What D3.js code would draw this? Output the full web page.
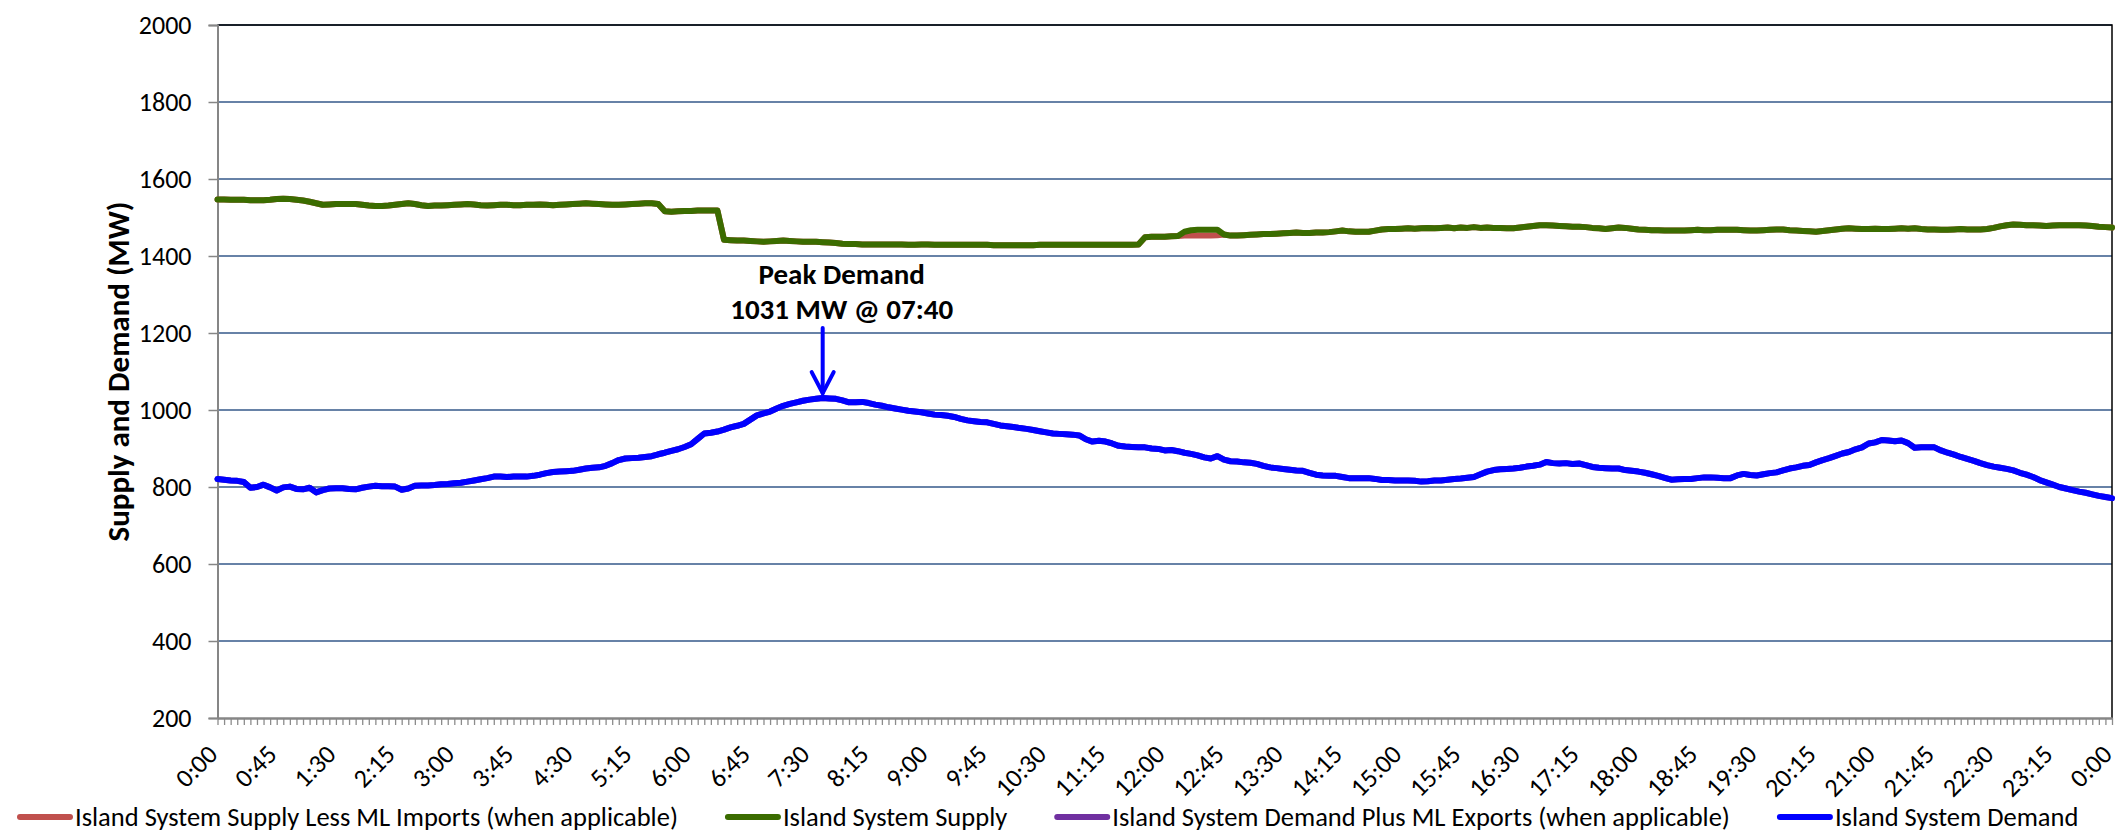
<!DOCTYPE html>
<html>
<head>
<meta charset="utf-8">
<script src="https://cdn.jsdelivr.net/npm/d3@7"></script>
<style>
  body { margin: 0; background: #fff; }
  text { font-family: Calibri, Carlito, Lato, sans-serif; fill: #000; }
</style>
</head>
<body>
<script>
// 5-minute readings, 0:00 .. 0:00 (289 points)
const demand = [
  821,819,817,816,813,798,800,806,799,791,
  799,801,795,794,798,786,792,796,797,797,
  795,794,798,801,803,802,802,801,793,796,
  803,804,804,805,807,808,810,811,814,817,
  820,823,827,827,826,827,827,827,829,832,
  836,839,840,841,842,845,848,850,851,855,
  862,870,874,875,876,878,880,885,889,894,
  898,904,911,925,939,941,944,949,955,959,
  964,975,986,991,996,1004,1011,1016,1020,1024,
  1027,1029,1031,1030,1029,1025,1020,1020,1021,1018,
  1014,1011,1007,1004,1001,998,996,994,991,988,
  987,985,982,977,973,971,969,968,964,960,
  958,956,953,951,948,945,942,939,938,937,
  936,934,924,918,920,918,913,907,905,904,
  903,903,900,899,895,896,893,889,886,882,
  877,874,880,871,867,866,864,863,860,855,
  851,849,847,845,843,842,837,832,830,829,
  829,826,823,823,823,823,821,818,818,817,
  817,817,816,814,815,817,817,819,821,822,
  824,826,833,840,844,846,847,848,850,853,
  855,858,865,862,861,862,860,861,857,852,
  850,849,848,848,844,842,840,837,833,829,
  824,819,820,821,821,823,825,825,824,823,
  823,830,834,831,830,833,836,838,843,848,
  851,855,857,864,870,875,881,887,891,898,
  903,913,916,922,921,919,921,914,902,903,
  903,903,895,889,884,878,873,868,862,857,
  853,850,847,843,837,832,826,818,812,806,
  800,796,792,788,785,781,777,774,771
];

const supply = [
  1547,1547,1546,1546,1546,1545,1545,1545,1546,1548,
  1549,1548,1546,1544,1541,1537,1533,1534,1535,1535,
  1535,1535,1533,1531,1530,1530,1531,1533,1535,1537,
  1535,1532,1530,1531,1531,1532,1533,1534,1535,1534,
  1532,1531,1532,1533,1533,1532,1532,1533,1533,1534,
  1533,1532,1533,1534,1535,1536,1537,1536,1535,1534,
  1533,1533,1534,1535,1536,1537,1537,1535,1516,1515,
  1516,1517,1517,1518,1518,1518,1518,1442,1441,1440,
  1440,1439,1438,1437,1438,1439,1440,1439,1438,1437,
  1437,1437,1436,1435,1434,1432,1431,1431,1430,1430,
  1430,1430,1430,1430,1430,1429,1429,1430,1430,1429,
  1429,1429,1429,1429,1429,1429,1429,1429,1428,1428,
  1428,1428,1428,1428,1428,1429,1429,1429,1429,1429,
  1429,1429,1429,1429,1429,1429,1429,1429,1429,1429,
  1430,1449,1450,1450,1450,1451,1452,1463,1467,1468,
  1468,1468,1468,1456,1453,1453,1454,1455,1456,1457,
  1457,1458,1459,1460,1461,1460,1460,1461,1461,1462,
  1464,1466,1464,1463,1463,1463,1466,1469,1470,1470,
  1471,1472,1471,1472,1473,1472,1473,1474,1472,1474,
  1473,1475,1473,1474,1473,1473,1472,1472,1474,1476,
  1478,1480,1480,1479,1478,1477,1476,1476,1475,1473,
  1472,1470,1472,1474,1473,1471,1469,1468,1467,1467,
  1466,1466,1466,1466,1467,1468,1467,1467,1468,1468,
  1468,1468,1467,1466,1466,1467,1468,1469,1469,1467,
  1466,1465,1464,1463,1465,1467,1469,1471,1472,1471,
  1470,1470,1471,1470,1470,1471,1472,1471,1472,1470,
  1469,1469,1468,1468,1469,1470,1469,1469,1469,1470,
  1473,1477,1480,1482,1481,1480,1480,1479,1478,1479,
  1480,1480,1480,1480,1479,1478,1476,1475,1474
];

const supplyLessImports = [
  1547,1547,1546,1546,1546,1545,1545,1545,1546,1548,
  1549,1548,1546,1544,1541,1537,1533,1534,1535,1535,
  1535,1535,1533,1531,1530,1530,1531,1533,1535,1537,
  1535,1532,1530,1531,1531,1532,1533,1534,1535,1534,
  1532,1531,1532,1533,1533,1532,1532,1533,1533,1534,
  1533,1532,1533,1534,1535,1536,1537,1536,1535,1534,
  1533,1533,1534,1535,1536,1537,1537,1535,1516,1515,
  1516,1517,1517,1518,1518,1518,1518,1442,1441,1440,
  1440,1439,1438,1437,1438,1439,1440,1439,1438,1437,
  1437,1437,1436,1435,1434,1432,1431,1431,1430,1430,
  1430,1430,1430,1430,1430,1429,1429,1430,1430,1429,
  1429,1429,1429,1429,1429,1429,1429,1429,1428,1428,
  1428,1428,1428,1428,1428,1429,1429,1429,1429,1429,
  1429,1429,1429,1429,1429,1429,1429,1429,1429,1429,
  1430,1449,1450,1450,1450,1451,1452,1453,1453,1453,
  1453,1453,1454,1456,1453,1453,1454,1455,1456,1457,
  1457,1458,1459,1460,1461,1460,1460,1461,1461,1462,
  1464,1466,1464,1463,1463,1463,1466,1469,1470,1470,
  1471,1472,1471,1472,1473,1472,1473,1474,1472,1474,
  1473,1475,1473,1474,1473,1473,1472,1472,1474,1476,
  1478,1480,1480,1479,1478,1477,1476,1476,1475,1473,
  1472,1470,1472,1474,1473,1471,1469,1468,1467,1467,
  1466,1466,1466,1466,1467,1468,1467,1467,1468,1468,
  1468,1468,1467,1466,1466,1467,1468,1469,1469,1467,
  1466,1465,1464,1463,1465,1467,1469,1471,1472,1471,
  1470,1470,1471,1470,1470,1471,1472,1471,1472,1470,
  1469,1469,1468,1468,1469,1470,1469,1469,1469,1470,
  1473,1477,1480,1482,1481,1480,1480,1479,1478,1479,
  1480,1480,1480,1480,1479,1478,1476,1475,1474
];

// no ML exports on this day, so the purple series sits under the blue one
const demandPlusExports = demand.slice();

const timeLabels = ["0:00","0:45","1:30","2:15","3:00","3:45","4:30","5:15","6:00",
  "6:45","7:30","8:15","9:00","9:45","10:30","11:15","12:00","12:45","13:30",
  "14:15","15:00","15:45","16:30","17:15","18:00","18:45","19:30","20:15",
  "21:00","21:45","22:30","23:15","0:00"];
const yTicks = [200, 400, 600, 800, 1000, 1200, 1400, 1600, 1800, 2000];

const seriesNames = [
  "Island System Supply Less ML Imports (when applicable)",
  "Island System Supply",
  "Island System Demand Plus ML Exports (when applicable)",
  "Island System Demand"
];
const seriesColors = ["#c0504d", "#3b6c00", "#7030a0", "#0000ff"];
const seriesData = [supplyLessImports, supply, demandPlusExports, demand];

const peakLabel = ["Peak Demand", "1031 MW @ 07:40"];

const w = 2123, h = 834;
const plotLeft = 217.5, plotRight = 2112, plotTop = 25, plotBottom = 718;

const svg = d3.select("body").append("svg").attr("width", w).attr("height", h);

const x = d3.scaleLinear().domain([0, demand.length - 1]).range([plotLeft, plotRight]);
const y = d3.scaleLinear().domain([200, 2000]).range([plotBottom, plotTop]);

// gridlines
svg.append("g")
  .selectAll("line")
  .data(yTicks.slice(1))
  .enter()
  .append("line")
  .attr("x1", plotLeft).attr("x2", plotRight)
  .attr("y1", d => y(d)).attr("y2", d => y(d))
  .attr("stroke", "#34588a")
  .attr("stroke-width", 1.7);

// plot border (top and right)
svg.append("path")
  .attr("d", `M${plotLeft},${plotTop}H${plotRight}V${plotBottom}`)
  .attr("fill", "none")
  .attr("stroke", "#000")
  .attr("stroke-width", 1.5);

// y axis
const yAxis = svg.append("g")
  .attr("transform", `translate(${plotLeft},0)`)
  .call(d3.axisLeft(y).tickValues(yTicks).tickSize(9).tickPadding(17).tickFormat(d3.format("d")));
yAxis.select(".domain").attr("stroke", "#868686").attr("stroke-width", 2);
yAxis.selectAll(".tick line").attr("stroke", "#868686").attr("stroke-width", 1.5);
yAxis.selectAll(".tick text")
  .attr("font-size", "26px")
  .attr("font-family", "Calibri, Carlito, Lato, sans-serif")
  .attr("fill", "#000");

// x axis: minor tick for every reading
const xMinor = svg.append("g")
  .attr("transform", `translate(0,${plotBottom})`)
  .call(d3.axisBottom(x).tickValues(d3.range(demand.length)).tickSize(7).tickFormat(""));
xMinor.select(".domain").remove();
xMinor.selectAll(".tick line").attr("stroke", "#8c8c8c").attr("stroke-width", 1.3);

// x axis labels every 45 minutes
const xAxis = svg.append("g")
  .attr("transform", `translate(0,${plotBottom})`)
  .call(d3.axisBottom(x)
    .tickValues(timeLabels.map((d, i) => i * 9))
    .tickSize(0)
    .tickFormat((d, i) => timeLabels[i]));
xAxis.select(".domain").attr("stroke", "#868686").attr("stroke-width", 2.5);
xAxis.selectAll(".tick text")
  .attr("font-size", "26px")
  .attr("font-family", "Calibri, Carlito, Lato, sans-serif")
  .attr("fill", "#000")
  .attr("text-anchor", "end")
  .attr("dy", 0)
  .attr("y", 0)
  .attr("transform", "translate(1,38) rotate(-45)");

// y axis title
svg.append("text")
  .attr("transform", `translate(129,${(plotTop + plotBottom) / 2}) rotate(-90)`)
  .attr("text-anchor", "middle")
  .attr("font-size", "31px")
  .attr("font-weight", "bold")
  .text("Supply and Demand (MW)");

// series lines
const line = d3.line()
  .x((d, i) => x(i))
  .y(d => y(d));

svg.append("g")
  .selectAll("path")
  .data(seriesData)
  .enter()
  .append("path")
  .attr("d", d => line(d))
  .attr("fill", "none")
  .attr("stroke", (d, i) => seriesColors[i])
  .attr("stroke-width", 6)
  .attr("stroke-linejoin", "round")
  .attr("stroke-linecap", "round");

// peak annotation
const peakIdx = d3.maxIndex(demand);
const px = x(peakIdx), py = y(demand[peakIdx]);
const arrow = svg.append("g")
  .attr("stroke", "#0000ff")
  .attr("stroke-width", 4)
  .attr("fill", "none")
  .attr("stroke-linecap", "round");
arrow.append("line")
  .attr("x1", px).attr("x2", px)
  .attr("y1", py - 70).attr("y2", py - 5);
arrow.append("path")
  .attr("d", `M${px - 11},${py - 26}L${px},${py - 5}L${px + 11},${py - 26}`);

svg.append("g")
  .selectAll("text")
  .data(peakLabel)
  .enter()
  .append("text")
  .attr("x", px + 19)
  .attr("y", (d, i) => py - 114 + i * 35)
  .attr("text-anchor", "middle")
  .attr("font-size", "29px")
  .attr("font-weight", "bold")
  .text(d => d);

// legend
const legend = svg.append("g").attr("transform", "translate(18,817)");
let lx = 0;
seriesNames.forEach((name, i) => {
  const g = legend.append("g").attr("transform", `translate(${lx},0)`);
  g.append("line")
    .attr("x1", 2).attr("x2", 52)
    .attr("y1", 0).attr("y2", 0)
    .attr("stroke", seriesColors[i])
    .attr("stroke-width", 6)
    .attr("stroke-linecap", "round");
  const t = g.append("text")
    .attr("x", 57)
    .attr("y", 9)
    .attr("font-size", "26.5px")
    .text(name);
  lx += 57 + t.node().getComputedTextLength() + 48;
});
</script>
</body>
</html>
